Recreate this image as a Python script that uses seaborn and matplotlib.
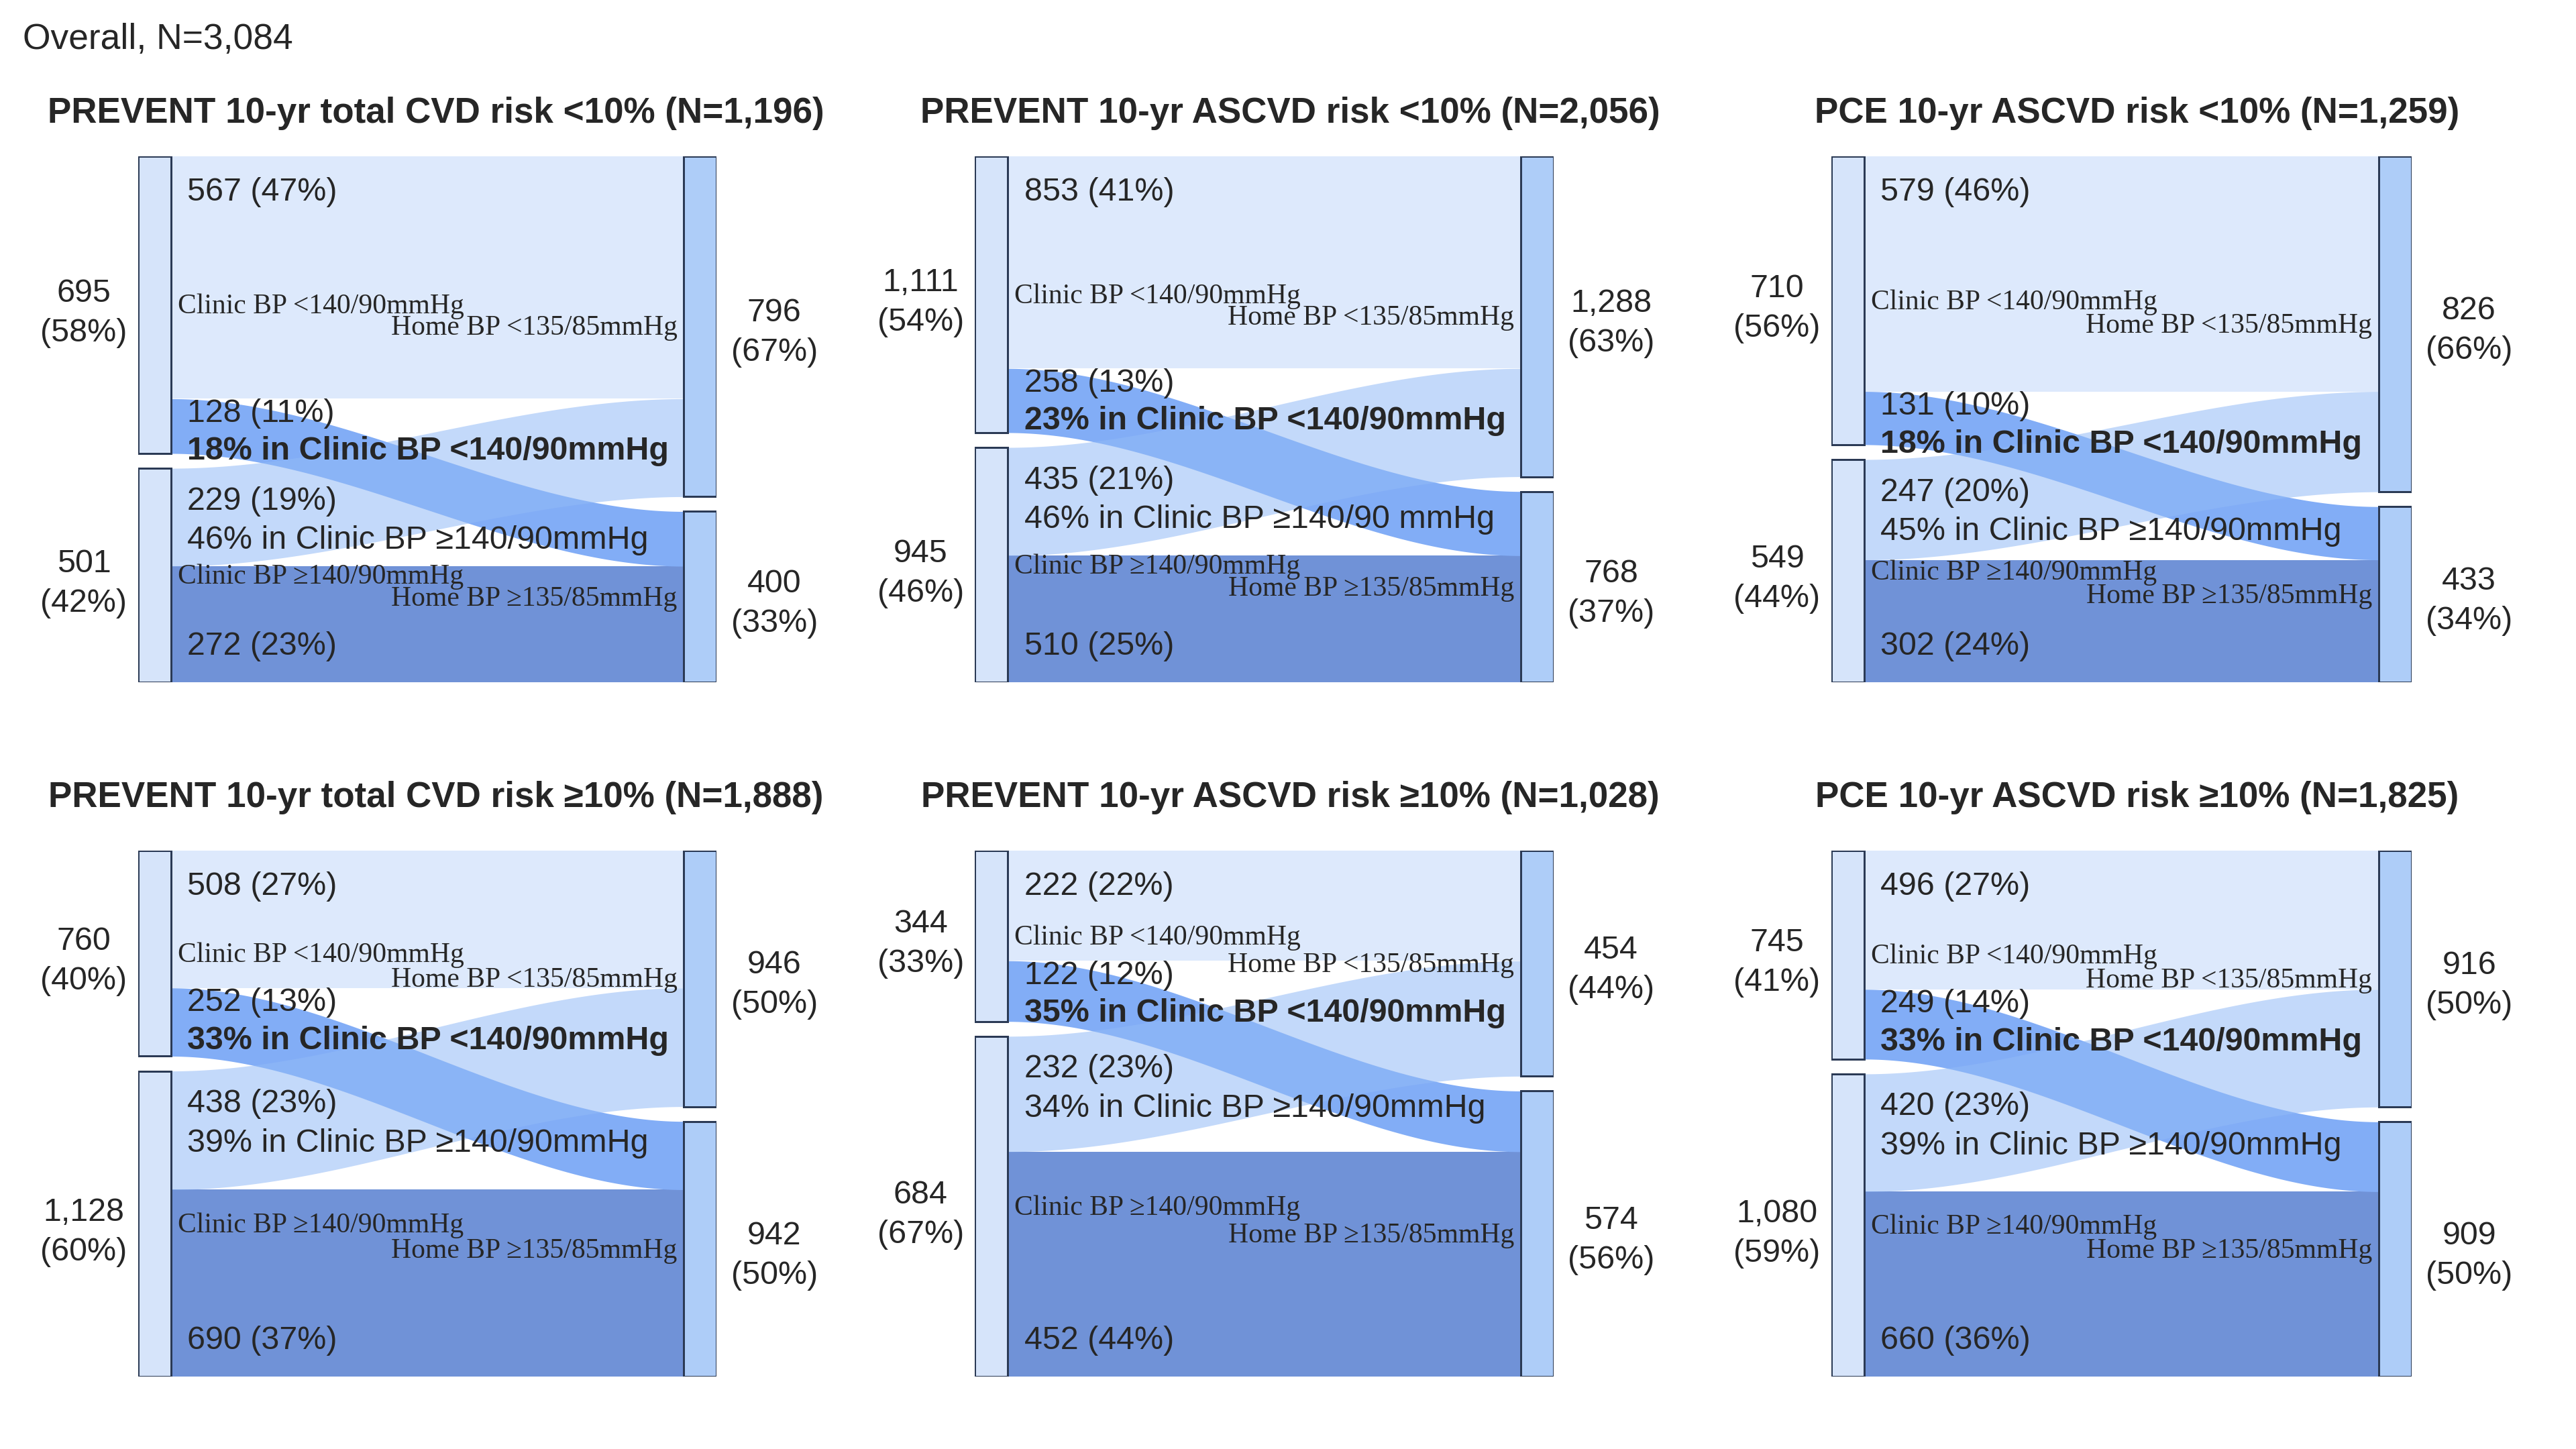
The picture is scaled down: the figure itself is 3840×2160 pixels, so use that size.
import numpy as np
import matplotlib.pyplot as plt
import seaborn as sns
from matplotlib.patches import Rectangle

# ---- data ----
overall_label = "Overall, N=3,084"
panel_titles = [
    "PREVENT 10-yr total CVD risk <10%",
    "PREVENT 10-yr ASCVD risk <10%",
    "PCE 10-yr ASCVD risk <10%",
    "PREVENT 10-yr total CVD risk \u226510%",
    "PREVENT 10-yr ASCVD risk \u226510%",
    "PCE 10-yr ASCVD risk \u226510%",
]
totals = [1196, 2056, 1259, 1888, 1028, 1825]
clinic_low = [695, 1111, 710, 760, 344, 745]
clinic_high = [501, 945, 549, 1128, 684, 1080]
home_low = [796, 1288, 826, 946, 454, 916]
home_high = [400, 768, 433, 942, 574, 909]
# flows: clinic -> home
flow_low_low = [567, 853, 579, 508, 222, 496]
flow_low_high = [128, 258, 131, 252, 122, 249]
flow_high_low = [229, 435, 247, 438, 232, 420]
flow_high_high = [272, 510, 302, 690, 452, 660]
masked_notes = [
    "18% in Clinic BP <140/90mmHg", "23% in Clinic BP <140/90mmHg",
    "18% in Clinic BP <140/90mmHg", "33% in Clinic BP <140/90mmHg",
    "35% in Clinic BP <140/90mmHg", "33% in Clinic BP <140/90mmHg",
]
whitecoat_notes = [
    "46% in Clinic BP \u2265140/90mmHg", "46% in Clinic BP \u2265140/90 mmHg",
    "45% in Clinic BP \u2265140/90mmHg", "39% in Clinic BP \u2265140/90mmHg",
    "34% in Clinic BP \u2265140/90mmHg", "39% in Clinic BP \u2265140/90mmHg",
]
clinic_names = ["Clinic BP <140/90mmHg", "Clinic BP \u2265140/90mmHg"]
home_names = ["Home BP <135/85mmHg", "Home BP \u2265135/85mmHg"]

# colours
left_node_color = "#d6e4fa"
right_node_color = "#aecdf8"
edge_color = "#2b3a55"
flow_colors = sns.color_palette(["#dde9fc", "#82adf6", "#92baf6", "#7092d7"])

sns.set_theme(style="white")
plt.rcParams["font.family"] = ["Liberation Sans", "DejaVu Sans"]
SERIF = ["Liberation Serif", "DejaVu Serif"]

# layout in reference view pixels
W_PX, H_PX = 1567.0, 881.0
col_left = [84, 593, 1114]
col_right = [436, 945, 1467]
row_top = [95, 517]
row_bot = [415, 837]
title_y = [69, 485]
title_x = [265, 785, 1300]
NODE_PX = 20
GAP_PX = 9
FS = 14.5
SERIF_FS = 12.5


def fmt(n):
    return f"{n:,}"


def pct(n, tot):
    return f"{100 * n / tot:.0f}%"


def ribbon(ax, x0, x1, ya0, yb0, ya1, yb1, color, alpha=1.0):
    t = np.linspace(0, 1, 200)
    s = 3 * t ** 2 - 2 * t ** 3
    x = x0 + (x1 - x0) * t
    top = ya0 + (ya1 - ya0) * s
    bot = yb0 + (yb1 - yb0) * s
    ax.fill_between(x, top, bot, color=color, lw=0, alpha=alpha, zorder=1)


fig = plt.figure(figsize=(16, 9), dpi=240)
fig.text(14 / W_PX, 1 - 24 / H_PX, overall_label, ha="left", va="center", fontsize=16)

for i in range(6):
    r, c = divmod(i, 3)
    x0p, x1p = col_left[c], col_right[c]
    y0p, y1p = row_top[r], row_bot[r]
    wpx, hpx = x1p - x0p, y1p - y0p
    ax = fig.add_axes([x0p / W_PX, 1 - y1p / H_PX, wpx / W_PX, hpx / H_PX])

    N = totals[i]
    gap = N * GAP_PX / (hpx - GAP_PX)
    ymax = N + gap
    dy = ymax / hpx          # count units per view pixel
    ax.set_xlim(0, wpx)
    ax.set_ylim(ymax, 0)
    ax.set_axis_off()

    L1, L2 = clinic_low[i], clinic_high[i]
    R1, R2 = home_low[i], home_high[i]
    f1, f2, f3, f4 = flow_low_low[i], flow_low_high[i], flow_high_low[i], flow_high_high[i]
    xa, xb = NODE_PX, wpx - NODE_PX

    # flows
    ribbon(ax, xa, xb, 0, f1, 0, f1, flow_colors[0])
    ribbon(ax, xa, xb, L1 + gap + f3, ymax, R1 + gap + f2, ymax, flow_colors[3])
    ribbon(ax, xa, xb, f1, L1, R1 + gap, R1 + gap + f2, flow_colors[1])
    ribbon(ax, xa, xb, L1 + gap, L1 + gap + f3, f1, R1, flow_colors[2], alpha=0.55)

    # nodes
    for (y, h) in [(0, L1), (L1 + gap, L2)]:
        ax.add_patch(Rectangle((0, y), NODE_PX, h, facecolor=left_node_color,
                               edgecolor=edge_color, lw=0.9, zorder=3))
    for (y, h) in [(0, R1), (R1 + gap, R2)]:
        ax.add_patch(Rectangle((xb, y), NODE_PX, h, facecolor=right_node_color,
                               edgecolor=edge_color, lw=0.9, zorder=3))

    # node names (serif) at node centres
    ax.text(NODE_PX + 4, L1 / 2 + dy, clinic_names[0], family=SERIF, fontsize=SERIF_FS,
            ha="left", va="center", zorder=4)
    ax.text(NODE_PX + 4, L1 + gap + L2 / 2 + dy, clinic_names[1], family=SERIF,
            fontsize=SERIF_FS, ha="left", va="center", zorder=4)
    ax.text(xb - 4, R1 / 2 + dy, home_names[0], family=SERIF, fontsize=SERIF_FS,
            ha="right", va="center", zorder=4)
    ax.text(xb - 4, R1 + gap + R2 / 2 + dy, home_names[1], family=SERIF, fontsize=SERIF_FS,
            ha="right", va="center", zorder=4)

    # node totals outside
    ax.text(-33, L1 / 2 + 5 * dy, f"{fmt(L1)}\n({pct(L1, N)})", ha="center", va="center",
            fontsize=FS, linespacing=1.4, clip_on=False)
    ax.text(-33, L1 + gap + L2 / 2 + 5 * dy, f"{fmt(L2)}\n({pct(L2, N)})", ha="center",
            va="center", fontsize=FS, linespacing=1.4, clip_on=False)
    ax.text(wpx + 35, R1 / 2 + 4 * dy, f"{fmt(R1)}\n({pct(R1, N)})", ha="center",
            va="center", fontsize=FS, linespacing=1.4, clip_on=False)
    ax.text(wpx + 35, R1 + gap + R2 / 2 + 4 * dy, f"{fmt(R2)}\n({pct(R2, N)})", ha="center",
            va="center", fontsize=FS, linespacing=1.4, clip_on=False)

    # flow labels
    lx = NODE_PX + 10
    ax.text(lx, 22 * dy, f"{fmt(f1)} ({pct(f1, N)})", ha="left", va="center", fontsize=FS, zorder=4)
    ax.text(lx, f1 + 9 * dy, f"{fmt(f2)} ({pct(f2, N)})", ha="left", va="center", fontsize=FS, zorder=4)
    ax.text(lx, f1 + 32 * dy, masked_notes[i], ha="left", va="center", fontsize=FS,
            fontweight="bold", zorder=4)
    ax.text(lx, L1 + gap + 20 * dy, f"{fmt(f3)} ({pct(f3, N)})", ha="left", va="center",
            fontsize=FS, zorder=4)
    ax.text(lx, L1 + gap + 44 * dy, whitecoat_notes[i], ha="left", va="center", fontsize=FS, zorder=4)
    ax.text(lx, ymax - 22 * dy, f"{fmt(f4)} ({pct(f4, N)})", ha="left", va="center",
            fontsize=FS, zorder=4)

    fig.text(title_x[c] / W_PX, 1 - title_y[r] / H_PX, f"{panel_titles[i]} (N={fmt(N)})",
             ha="center", va="center", fontsize=15.9, fontweight="bold")

fig.savefig("out.png", dpi=240)
